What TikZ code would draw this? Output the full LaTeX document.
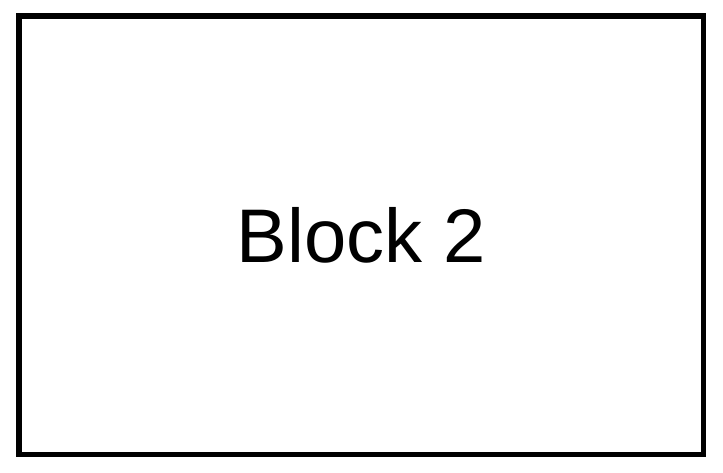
\documentclass[tikz,border=0pt]{standalone}
\usepackage{fontspec}
\setmainfont{Liberation Sans}
\usepackage{tikz}

\tikzset{
  blockbox/.style={draw=black,line width=5.5pt,fill=white,
    minimum width=684.5pt,minimum height=438.5pt,inner sep=0pt,
    font=\fontsize{76}{84}\selectfont}
}

\begin{document}
\begin{tikzpicture}[x=1pt,y=1pt]
\definecolor{fillColor}{RGB}{255,255,255}
\path[use as bounding box,fill=fillColor] (0,0) rectangle (723,472);

\node[blockbox] (block2) at (361.25,236.75) {Block 2};
\end{tikzpicture}
\end{document}
